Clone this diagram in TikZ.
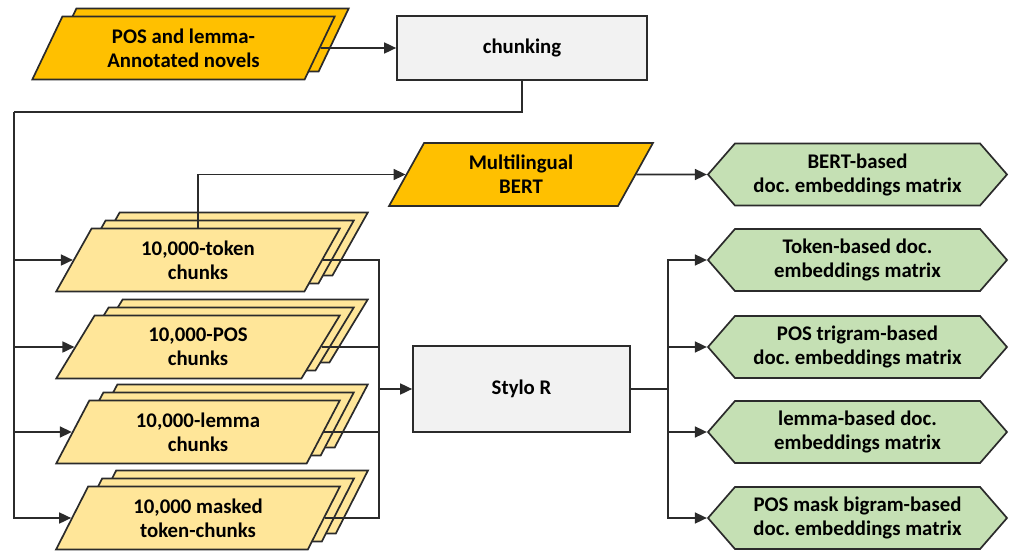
\documentclass[tikz,border=0pt]{standalone}
\usepackage{fontspec}
\setmainfont{Carlito}
\usetikzlibrary{shapes.geometric,shapes.symbols,shadows,arrows.meta}
\definecolor{novelorange}{HTML}{FFC000}
\definecolor{chunkyellow}{HTML}{FFE699}
\definecolor{stepgray}{HTML}{F2F2F2}
\definecolor{matgreen}{HTML}{C5E0B4}
\definecolor{edgegray}{HTML}{2B2B2B}
\frenchspacing

\begin{document}
\begin{tikzpicture}[x=1pt,y=-1pt,
  every node/.style={font=\bfseries\fontsize{20.8}{24}\selectfont, align=center, inner sep=0pt},
  box/.style={draw=edgegray, line width=1.7pt, fill=stepgray, minimum height=64pt},
  para/.style={trapezium, trapezium left angle=64, trapezium right angle=116,
    trapezium stretches=true, draw=edgegray, line width=1.7pt, minimum height=63pt},
  copyback/.style={general shadow={shadow xshift=#1pt, shadow yshift=#1*0.57pt,
    fill=chunkyellow, draw=edgegray, line width=1.7pt}},
  stack/.style={para, fill=chunkyellow, minimum width=284pt, copyback=28, copyback=14},
  matrixbox/.style={signal, signal to=west and east, signal pointer angle=98,
    draw=edgegray, line width=1.7pt, fill=matgreen, minimum width=299pt, minimum height=62pt},
  arr/.style={draw=edgegray, line width=1.7pt, -{Triangle[length=12pt,width=11pt]}},
  wire/.style={draw=edgegray, line width=1.7pt}]
  \useasboundingbox (0,0) rectangle (1011,551);

  \node[para, fill=novelorange, minimum width=303pt,
    general shadow={shadow xshift=14pt, shadow yshift=8pt, fill=novelorange, draw=edgegray, line width=1.7pt}]
    (novels) at (183.5,48) {POS and lemma-\\Annotated novels};
  \node[box, minimum width=250pt] (chunk) at (522,48) {chunking};
  \node[para, fill=novelorange, minimum width=264pt] (bert) at (521,174.5) {Multilingual\\BERT};

  \node[stack] (tok) at (198,260) {10,000-token\\chunks};
  \node[stack] (pos) at (198,347) {10,000-POS\\chunks};
  \node[stack] (lem) at (198,432) {10,000-lemma\\chunks};
  \node[stack] (msk) at (198,518) {10,000 masked\\token-chunks};

  \node[box, minimum width=217pt, minimum height=86pt] (stylo) at (521.5,389) {Stylo R};

  \node[matrixbox] (mbert) at (857.5,174.5) {BERT-based\\doc. embeddings matrix};
  \node[matrixbox] (mtok) at (857.5,260) {Token-based doc.\\embeddings matrix};
  \node[matrixbox] (mpos) at (857.5,347) {POS trigram-based\\doc. embeddings matrix};
  \node[matrixbox] (mlem) at (857.5,432) {lemma-based doc.\\embeddings matrix};
  \node[matrixbox] (mmsk) at (857.5,518) {POS mask bigram-based\\doc. embeddings matrix};

  \coordinate (split) at (14,112);
  \coordinate (merge) at (379,389);
  \coordinate (fan) at (668,389);

  \draw[arr] (novels) -- (chunk);
  \draw[wire] (chunk.south) |- (split);
  \draw[arr] (split) |- (msk.west);
  \draw[arr] (split |- tok.west) -- (tok.west);
  \draw[arr] (split |- pos.west) -- (pos.west);
  \draw[arr] (split |- lem.west) -- (lem.west);
  \draw[arr] (tok.north) |- (bert);
  \draw[arr] (bert) -- (mbert);
  \draw[wire] (tok.east) -| (merge) |- (msk.east);
  \draw[wire] (pos.east) -- (pos.east -| merge);
  \draw[wire] (lem.east) -- (lem.east -| merge);
  \draw[arr] (merge) -- (stylo);
  \draw[wire] (stylo) -- (fan);
  \draw[arr] (fan) |- (mtok);
  \draw[arr] (fan) |- (mpos);
  \draw[arr] (fan) |- (mlem);
  \draw[arr] (fan) |- (mmsk);
\end{tikzpicture}
\end{document}
